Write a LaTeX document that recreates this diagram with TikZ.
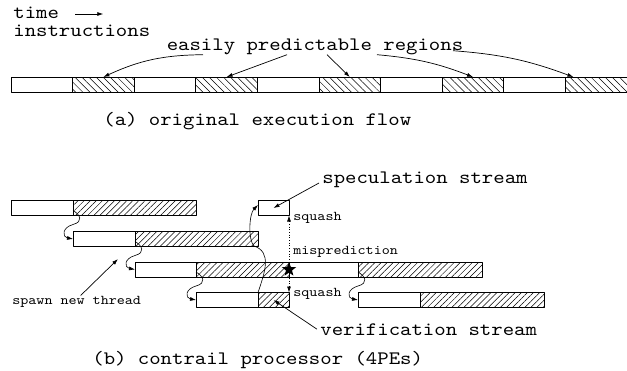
\documentclass[tikz,border=0pt]{standalone}
\usepackage{fontspec}
\setmonofont[FakeStretch=1.143]{lmmono10-regular.otf}
\usetikzlibrary{arrows.meta,patterns.meta,shapes.geometric}
\newcommand\spawnarrow[2]{\draw[squig] ([yshift=5pt]#1.south west) .. controls +(7,4) and +(11,-3) .. ++(0,14) .. controls +(-11,3) and +(-11,-2) .. (#2.west);}
\begin{document}
\begin{tikzpicture}[x=1pt, y=-1pt, line width=0.7pt, line join=round, >={Latex[length=6pt,width=4pt]},
	big/.style={font=\fontsize{19}{21}\selectfont\ttfamily, inner sep=0, anchor=base west},
	small/.style={font=\fontsize{13.4}{15}\selectfont\ttfamily, inner sep=0, anchor=base west},
	plainseg/.style={draw, line width=0.9pt, minimum height=15pt, inner sep=0, outer sep=0, anchor=north west},
	hatchback/.style={plainseg, pattern={Lines[angle=-45,distance=5pt,line width=0.5pt]}},
	hatchfwd/.style={plainseg, pattern={Lines[angle=45,distance=4.3pt,line width=0.5pt]}},
	squig/.style={->, line width=0.6pt}]
	\useasboundingbox (0,0) rectangle (627,370);
	% (a) original flow
	\node[big] (tm) at (13,18) {time};
	\draw[->] ([shift={(16,-4)}]tm.base east) -- ++(28,0);
	\node[big] (instr) at (13,36) {instructions};
	\node[big, anchor=base] (easy) at (315,50) {easily predictable regions};
	\foreach \i in {0,...,4} {
		\node[plainseg, minimum width=61.6pt] (w\i) at (11+123.2*\i,77) {};
		\node[hatchback, minimum width=61.6pt] (h\i) at (72.6+123.2*\i,77) {};
	}
	\draw[->] ([xshift=-112pt]easy.south) to[bend right=12] (h0.north);
	\draw[->] ([xshift=-28pt]easy.south) -- (h1.north);
	\draw[->] ([xshift=12pt]easy.south) -- (h2.north);
	\draw[->] ([xshift=62pt]easy.south) to[bend left=8] (h3.north);
	\draw[->] ([shift={(138,-4)}]easy.south) to[bend left=8] ([xshift=8pt]h4.north west);
	\node[big] (capa) at (103,125) {(a) original execution flow};
	% (b) contrail processor
	\node[plainseg, minimum width=62pt] (r1a) at (11,200.5) {};
	\node[hatchfwd, minimum width=123pt] (r1b) at (r1a.north east) {};
	\node[plainseg, minimum width=62pt] (r2a) at ([yshift=-16pt]r1b.south west) {};
	\node[hatchfwd, minimum width=123pt] (r2b) at (r2a.north east) {};
	\node[plainseg, minimum width=61pt] (r3a) at ([yshift=-15.5pt]r2b.south west) {};
	\node[hatchfwd, minimum width=93pt] (r3b) at (r3a.north east) {};
	\node[plainseg, minimum width=69pt] (r3c) at (r3b.north east) {};
	\node[hatchfwd, minimum width=124pt] (r3d) at (r3c.north east) {};
	\node[plainseg, minimum width=62pt] (r4a) at ([yshift=-15.5pt]r3b.south west) {};
	\node[hatchfwd, minimum width=31pt] (r4b) at (r4a.north east) {};
	\node[plainseg, minimum width=62pt] (r4c) at ([yshift=-15.5pt]r3d.south west) {};
	\node[hatchfwd, minimum width=124pt] (r4d) at (r4c.north east) {};
	\node[plainseg, minimum width=31pt] (sp) at (r2b.north east |- r1a.north) {};
	\spawnarrow{r1b}{r2a}
	\spawnarrow{r2b}{r3a}
	\spawnarrow{r3b}{r4a}
	\spawnarrow{r3d}{r4c}
	\draw[squig] (r4b.north west) .. controls (265,272) and (272,252) .. (254,246) .. controls (248,240) and (249,214) .. ([yshift=3pt]sp.west);
	\draw[dotted, <->] (sp.south east) -- (r4b.north east);
	\node[star, star points=5, star point ratio=2.4, fill, minimum size=15pt, inner sep=0] (err) at (r3b.east) {};
	\node[small] (sq1) at (293,220) {squash};
	\node[small] (mis) at (293,254) {misprediction};
	\node[small] (sq2) at (293,296.5) {squash};
	\node[small] (spawn) at (12,304) {spawn new thread};
	\coordinate (gap) at (118,259);
	\draw[->] ([xshift=4pt]spawn.north) -- (gap);
	\node[big] (spec) at (322,183) {speculation stream};
	\draw[->] ([xshift=-3pt]spec.base west) -- (sp.center);
	\node[big] (verif) at (320,335) {verification stream};
	\draw[->] ([xshift=-3pt]verif.west) -- (r4b.center);
	\node[big] (capb) at (92,364) {(b) contrail processor (4PEs)};
\end{tikzpicture}
\end{document}
